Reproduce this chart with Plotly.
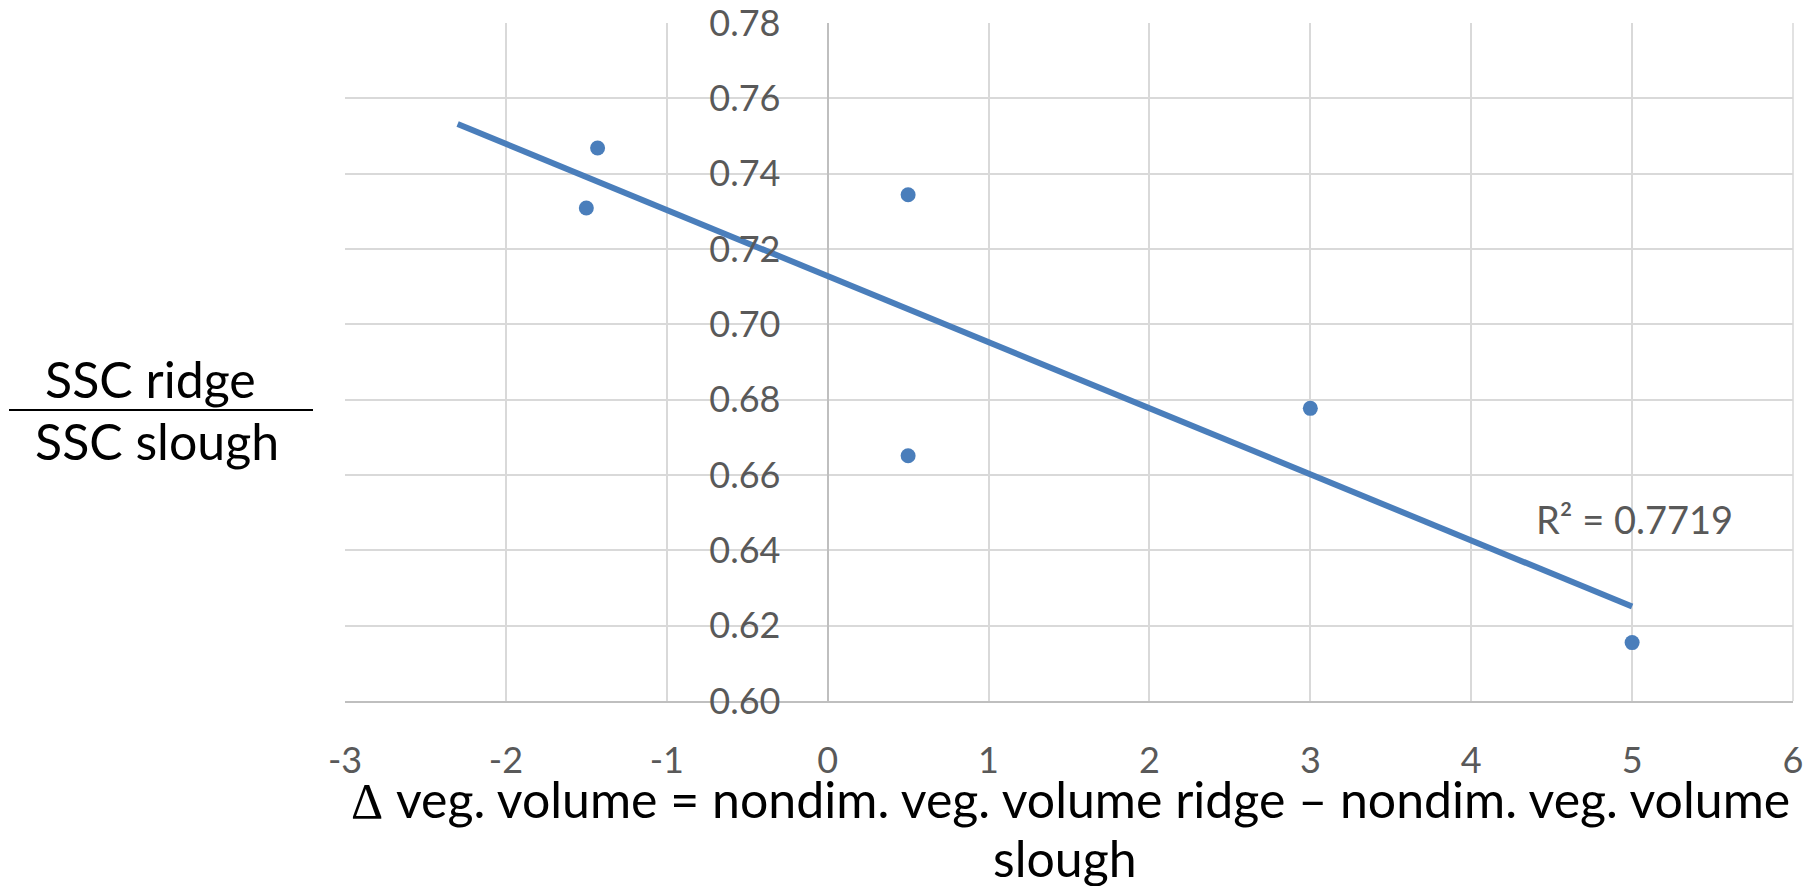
import numpy as np
import plotly.graph_objects as go

# Measured points: difference in vegetation volume vs. SSC ratio
delta_veg = [-1.43, -1.5, 0.5, 0.5, 3.0, 5.0]
ssc_ratio = [0.7468, 0.7309, 0.7344, 0.6651, 0.6777, 0.6155]

# Linear trendline extent (with backward forecast)
trend_start = -2.3
trend_end = 5.0
r2_label = "R² = 0.7719"

x_ticks = [-3, -2, -1, 0, 1, 2, 3, 4, 5, 6]
x_ticktext = ["-3", "-2", "-1", "0", "1", "2", "3", "4", "5", "6"]
y_ticks = [0.60, 0.62, 0.64, 0.66, 0.68, 0.70, 0.72, 0.74, 0.76, 0.78]

x_title_lines = [
    "<span style='font-family:Liberation Serif'>Δ</span> veg. volume = "
    "nondim. veg. volume ridge – nondim. veg. volume",
    "slough",
]
y_title_top = "SSC ridge"
y_title_bottom = "SSC slough"

BLUE = "#4A7EBB"
GRID = "#D9D9D9"
AXIS = "#BFBFBF"
TICK_GRAY = "#595959"
FONT = "Lato, Carlito, 'Open Sans', sans-serif"

W, H = 1820, 886
ML, MR, MT, MB = 345, 27, 23, 185
PW, PH = W - ML - MR, H - MT - MB


def px_x(p):
    return (p - ML) / PW


def px_y(p):
    return 1 - (p - MT) / PH


slope, intercept = np.polyfit(delta_veg, ssc_ratio, 1)
tx = np.array([trend_start, trend_end])
ty = slope * tx + intercept

fig = go.Figure()
fig.add_trace(go.Scatter(
    x=tx, y=ty, mode="lines",
    line=dict(color=BLUE, width=6),
    hoverinfo="skip", showlegend=False,
))
fig.add_trace(go.Scatter(
    x=delta_veg, y=ssc_ratio, mode="markers",
    marker=dict(color=BLUE, size=15),
    showlegend=False,
))

# R-squared label next to the trendline
fig.add_annotation(
    x=4.39, y=0.6483, xref="x", yref="y",
    text=r2_label, showarrow=False, xanchor="left", yanchor="middle",
    font=dict(family=FONT, size=38, color=TICK_GRAY),
)


def text_at(px, py, text, size=50):
    fig.add_annotation(
        x=px_x(px), y=px_y(py), xref="paper", yref="paper", text=text,
        showarrow=False, xanchor="center", yanchor="middle",
        font=dict(family=FONT, size=size, color="black"),
    )


# Fraction-style y axis title
text_at(150, 379, y_title_top)
text_at(157, 441, y_title_bottom)
fig.add_shape(
    type="line", xref="paper", yref="paper",
    x0=px_x(9), x1=px_x(313), y0=px_y(410), y1=px_y(410),
    line=dict(color="black", width=2),
)

# Two-line x axis title
text_at(1070, 799, x_title_lines[0])
text_at(1065, 858, x_title_lines[1])

fig.update_layout(
    width=W, height=H, autosize=False,
    margin=dict(l=ML, r=MR, t=MT, b=MB),
    paper_bgcolor="white", plot_bgcolor="white",
    font=dict(family=FONT),
    xaxis=dict(
        range=[-3, 6], tickmode="array", tickvals=x_ticks, ticktext=x_ticktext,
        showgrid=True, gridcolor=GRID, gridwidth=1.5,
        zeroline=True, zerolinecolor=AXIS, zerolinewidth=1.5,
        showline=True, linecolor=AXIS, linewidth=1.5, mirror=False,
        ticks="outside", ticklen=27, tickcolor="rgba(0,0,0,0)",
        tickfont=dict(family=FONT, size=36, color=TICK_GRAY),
        ticklabeloverflow="allow",
        automargin=False, fixedrange=True,
    ),
    yaxis=dict(
        range=[0.60 - 1e-9, 0.78 + 1e-9], tickmode="array", tickvals=y_ticks,
        tickformat=".2f",
        showgrid=True, gridcolor=GRID, gridwidth=1.5,
        zeroline=False, showline=False,
        anchor="free", position=1 / 3,
        ticks="outside", ticklen=40, tickcolor="rgba(0,0,0,0)",
        tickfont=dict(family=FONT, size=36, color=TICK_GRAY),
        ticklabeloverflow="allow",
        automargin=False, fixedrange=True,
    ),
)

fig.add_shape(
    type="line", xref="paper", yref="paper", x0=1, x1=1, y0=0, y1=1,
    line=dict(color=GRID, width=1.5), layer="below",
)

fig.write_html("out.html")
